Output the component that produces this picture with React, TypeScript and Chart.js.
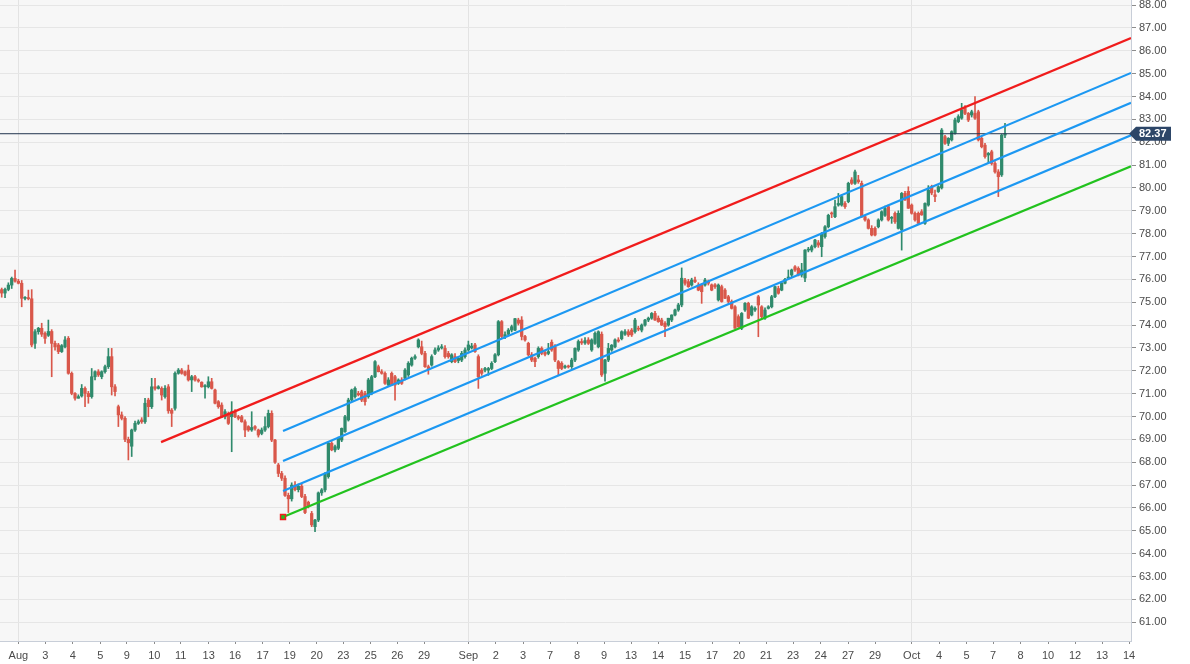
import { useEffect, useRef } from "react"
import { Chart, registerables } from "chart.js"

Chart.register(...registerables)

// open, high, low, close
type Candle = [number, number, number, number]

const augustEarly: Candle[] = [
  [75.55, 75.62, 75.22, 75.4], [75.4, 75.62, 75.2, 75.56], [75.56, 75.85, 75.5, 75.75], [75.75, 76.1, 75.6, 76.04],
  [76.04, 76.41, 75.88, 75.92], [75.92, 76.0, 75.8, 75.83], [75.83, 75.95, 74.8, 75.17], [75.17, 75.25, 75.1, 75.2],
  [75.2, 75.53, 75.1, 75.15], [75.15, 75.55, 73.05, 73.13], [73.2, 73.8, 72.98, 73.71], [73.71, 73.9, 73.6, 73.86],
  [73.86, 74.08, 73.5, 73.6], [73.64, 73.7, 73.2, 73.42], [73.55, 74.22, 73.5, 73.72], [73.72, 73.8, 71.74, 73.2],
  [73.2, 73.3, 72.9, 73.05], [73.13, 73.2, 72.75, 72.84], [72.84, 73.15, 72.8, 73.1], [73.05, 73.5, 73.0, 73.35],
  [73.42, 73.5, 71.85, 71.89], [71.89, 71.95, 70.95, 71.01], [71.01, 71.05, 70.72, 70.8], [70.8, 70.95, 70.8, 70.87],
  [70.9, 71.4, 70.85, 71.23], [71.23, 71.3, 70.43, 71.01], [71.01, 71.1, 70.58, 70.87], [70.87, 72.1, 70.8, 71.74],
  [71.74, 72.0, 71.6, 71.96], [71.96, 72.05, 71.75, 71.82], [71.74, 72.0, 71.65, 71.96], [71.96, 72.25, 71.9, 72.18],
  [72.18, 72.98, 72.1, 72.62], [72.62, 72.98, 70.94, 71.3], [71.3, 71.4, 70.9, 71.09], [70.43, 70.5, 69.56, 70.07],
  [70.07, 70.2, 69.85, 69.92], [69.92, 70.0, 68.9, 69.0], [69.0, 69.1, 68.1, 68.85], [68.7, 69.45, 68.25, 69.41],
  [69.41, 69.8, 69.35, 69.7], [69.7, 69.85, 69.65, 69.77], [69.85, 69.95, 69.7, 69.77], [69.77, 70.8, 69.7, 70.58],
  [70.72, 70.8, 69.99, 70.43], [70.43, 71.67, 70.35, 71.3], [71.3, 71.67, 71.15, 71.23], [71.23, 71.35, 71.2, 71.3],
  [71.23, 71.3, 70.72, 70.94], [70.87, 71.35, 70.8, 71.23], [71.3, 71.4, 70.14, 70.25], [70.28, 70.35, 69.56, 70.14],
  [70.36, 71.95, 70.28, 71.89], [71.89, 72.1, 71.85, 72.03], [72.03, 72.1, 71.85, 71.89], [71.96, 72.0, 71.78, 71.82],
  [72.03, 72.25, 71.55, 71.6], [71.6, 71.8, 71.09, 71.74], [71.74, 71.8, 71.55, 71.6], [71.6, 71.65, 71.5, 71.55],
  [71.5, 71.52, 71.28, 71.3], [71.3, 71.4, 70.8, 71.35], [71.3, 71.74, 71.25, 71.52], [71.52, 71.67, 71.2, 71.23],
  [71.16, 71.2, 70.55, 70.58], [70.65, 70.7, 70.36, 70.43], [70.5, 70.6, 69.95, 69.99], [69.99, 70.3, 69.9, 70.21],
  [70.14, 70.2, 69.65, 69.7], [69.99, 70.65, 68.46, 70.21], [70.21, 70.3, 69.95, 69.99], [69.99, 70.05, 69.85, 69.92],
  [69.99, 70.05, 69.75, 69.77], [69.77, 69.85, 69.12, 69.41], [69.56, 69.6, 69.35, 69.41], [69.41, 70.21, 69.35, 69.52],
  [69.56, 69.6, 69.4, 69.48], [69.41, 69.45, 69.1, 69.19], [69.26, 69.5, 69.2, 69.41], [69.41, 69.99, 69.35, 69.56],
  [69.56, 70.28, 69.5, 70.14], [70.14, 70.25, 68.9, 68.97], [68.97, 69.0, 67.95, 68.0], [67.88, 67.95, 67.37, 67.51],
]

const augustLate: Candle[] = [
  [67.51, 67.6, 67.2, 67.3], [67.3, 67.4, 66.5, 66.55], [66.55, 66.65, 65.8, 66.4], [66.4, 67.1, 66.3, 67.0],
  [67.0, 67.15, 66.75, 66.8], [66.8, 67.05, 66.7, 66.95], [66.95, 67.05, 66.45, 66.5], [66.5, 66.6, 65.75, 65.8],
  [66.25, 66.3, 66.0, 66.1], [65.76, 65.85, 65.18, 65.26], [65.18, 65.5, 64.96, 65.47], [65.47, 66.7, 65.4, 66.66],
  [66.66, 66.85, 66.55, 66.79], [66.79, 67.55, 66.7, 67.51], [67.37, 68.9, 67.3, 68.83], [68.83, 68.9, 68.5, 68.54],
  [68.54, 68.75, 68.45, 68.68], [68.61, 69.1, 68.55, 69.05], [68.97, 69.5, 68.9, 69.48], [69.34, 70.05, 69.3, 69.99],
  [69.85, 70.8, 69.8, 70.72], [70.72, 71.2, 70.65, 71.16], [70.87, 71.3, 70.8, 71.23], [71.01, 71.1, 70.9, 70.95],
  [71.08, 71.15, 70.65, 70.72], [71.01, 71.1, 70.5, 70.65], [70.87, 71.67, 70.8, 71.6], [71.01, 71.8, 70.95, 71.74],
  [71.74, 72.45, 71.7, 72.4], [72.18, 72.25, 71.95, 71.96], [71.96, 72.05, 71.85, 71.89], [71.89, 71.95, 71.4, 71.45],
  [71.38, 71.7, 71.35, 71.6], [71.89, 71.95, 71.35, 71.38], [71.74, 71.8, 70.72, 71.38], [71.45, 71.65, 71.4, 71.6],
  [71.6, 71.7, 71.4, 71.45], [71.67, 72.1, 71.6, 72.03], [71.82, 72.4, 71.75, 72.33], [72.25, 72.6, 72.2, 72.55],
  [72.55, 72.7, 72.5, 72.62], [73.05, 73.4, 73.0, 73.35], [73.05, 73.3, 72.7, 72.76], [72.76, 72.85, 72.15, 72.18],
  [72.18, 72.25, 71.85, 72.1], [72.25, 72.7, 72.2, 72.62], [72.76, 73.0, 72.7, 72.91], [72.91, 73.1, 72.85, 73.0],
  [73.0, 73.15, 72.95, 73.05], [72.98, 73.1, 72.55, 72.62], [72.76, 72.85, 72.55, 72.62], [72.4, 72.75, 72.35, 72.7],
  [72.62, 72.75, 72.35, 72.4], [72.45, 72.6, 72.35, 72.55], [72.47, 72.85, 72.4, 72.76], [72.62, 73.0, 72.55, 72.91],
]

const septemberEarly: Candle[] = [
  [72.91, 73.3, 72.85, 73.13], [73.0, 73.2, 72.95, 73.08], [73.13, 73.2, 72.8, 72.84], [72.62, 72.7, 71.23, 71.74],
  [72.03, 72.1, 71.8, 71.89], [72.03, 72.15, 71.95, 72.1], [72.03, 72.15, 71.8, 72.1], [72.1, 72.4, 72.05, 72.33],
  [72.4, 72.75, 72.35, 72.7], [72.7, 74.2, 72.65, 74.15], [74.15, 74.2, 73.45, 73.5], [73.5, 73.7, 73.4, 73.58],
  [73.6, 73.85, 73.55, 73.78], [73.78, 74.0, 73.7, 73.93], [73.78, 74.3, 73.75, 74.28], [74.22, 74.3, 74.0, 74.08],
  [74.22, 74.37, 73.35, 73.5], [73.5, 73.55, 73.3, 73.35], [73.2, 73.25, 72.65, 72.7], [72.7, 72.8, 72.4, 72.47],
  [72.55, 72.6, 72.18, 72.4], [72.62, 73.05, 72.55, 72.98], [72.98, 73.05, 72.7, 72.76], [72.8, 72.9, 72.65, 72.72],
  [72.76, 73.2, 72.7, 72.84], [73.25, 73.35, 72.85, 72.91], [73.05, 73.15, 72.4, 72.47], [72.4, 72.45, 71.82, 72.1],
  [72.33, 72.4, 72.05, 72.1], [72.15, 72.25, 72.1, 72.2], [72.2, 72.25, 72.12, 72.17], [72.18, 72.55, 72.1, 72.47],
  [72.47, 73.0, 72.4, 72.98], [72.91, 73.35, 72.85, 73.28], [73.28, 73.4, 73.15, 73.22], [73.22, 73.45, 73.15, 73.32],
  [73.35, 73.45, 73.15, 73.2], [72.91, 73.4, 72.85, 73.35], [73.2, 73.7, 73.15, 73.64], [73.05, 73.75, 73.0, 73.71],
  [73.6, 73.7, 71.75, 71.82], [71.89, 72.5, 71.55, 72.47], [72.47, 73.2, 72.4, 72.98], [72.91, 73.15, 72.85, 73.12],
  [73.05, 73.4, 73.0, 73.35], [73.35, 73.45, 73.25, 73.3], [73.4, 73.75, 73.35, 73.71], [73.6, 73.8, 73.55, 73.71],
  [73.71, 73.8, 73.5, 73.57], [73.78, 73.85, 73.5, 73.57], [73.71, 74.3, 73.65, 74.22], [73.85, 73.95, 73.75, 73.82],
  [73.78, 74.05, 73.7, 74.0], [74.0, 74.25, 73.95, 74.22], [74.22, 74.35, 74.15, 74.3],
]

const septemberLate: Candle[] = [
  [74.3, 74.55, 74.25, 74.51], [74.51, 74.6, 74.2, 74.22], [74.3, 74.4, 74.12, 74.15], [74.22, 74.3, 73.98, 74.0],
  [74.08, 74.15, 73.49, 73.93], [74.0, 74.3, 73.95, 74.3], [74.22, 74.45, 74.15, 74.44], [74.44, 74.7, 74.4, 74.66],
  [74.66, 74.95, 74.6, 74.88], [74.88, 76.5, 74.8, 76.05], [75.97, 76.05, 75.75, 75.83], [75.9, 76.0, 75.65, 75.68],
  [75.75, 76.05, 75.7, 75.97], [75.97, 76.1, 75.85, 75.9], [75.75, 75.85, 75.5, 75.53], [75.75, 75.8, 74.95, 75.46],
  [75.75, 76.05, 75.7, 75.97], [75.9, 75.97, 75.75, 75.83], [75.76, 75.8, 75.5, 75.53], [75.76, 75.82, 75.6, 75.68],
  [75.1, 75.8, 75.05, 75.75], [75.68, 75.75, 75.0, 75.03], [75.53, 75.6, 75.15, 75.17], [75.24, 75.3, 74.95, 75.03],
  [75.03, 75.1, 74.7, 74.73], [74.8, 74.85, 73.85, 73.86], [74.37, 74.45, 73.9, 73.93], [73.86, 74.55, 73.8, 74.51],
  [74.66, 74.98, 74.6, 74.95], [74.95, 75.0, 74.28, 74.3], [74.44, 74.85, 74.4, 74.8], [74.66, 74.8, 74.6, 74.73],
  [75.24, 75.3, 73.49, 74.88], [74.8, 74.85, 74.3, 74.37], [74.3, 74.75, 74.25, 74.66], [74.73, 74.85, 74.7, 74.8],
  [74.8, 75.3, 74.75, 75.24], [75.24, 75.7, 75.2, 75.68], [75.6, 75.7, 75.35, 75.39], [75.53, 75.9, 75.5, 75.83],
  [75.83, 76.05, 75.8, 76.0], [76.05, 76.41, 76.0, 76.1], [76.19, 76.45, 76.1, 76.41], [76.55, 76.6, 76.35, 76.41],
  [76.48, 76.55, 76.15, 76.19], [76.19, 76.7, 76.1, 76.41], [76.06, 77.3, 75.9, 77.28], [77.28, 77.4, 77.2, 77.3],
  [77.28, 77.5, 77.2, 77.43], [77.43, 77.75, 77.38, 77.72], [77.6, 77.7, 77.4, 77.5], [77.43, 78.05, 76.99, 78.01],
  [77.87, 78.35, 77.8, 78.3], [78.3, 78.85, 78.25, 78.8],
]

const octoberRun: Candle[] = [
  [78.89, 78.95, 78.7, 78.86], [78.74, 79.47, 78.7, 79.18], [79.25, 79.76, 79.2, 79.32], [79.25, 79.7, 79.2, 79.62],
  [79.32, 79.4, 79.1, 79.18], [79.4, 80.25, 79.35, 80.2], [80.35, 80.45, 80.15, 80.2], [80.2, 80.78, 80.15, 80.7],
  [80.35, 80.55, 80.2, 80.27], [80.2, 80.3, 78.7, 78.74], [78.74, 78.8, 78.55, 78.6], [78.6, 78.65, 78.2, 78.23],
  [78.23, 78.35, 77.9, 77.94], [78.23, 78.3, 77.9, 77.94], [78.3, 78.65, 78.25, 78.6], [78.6, 79.0, 78.55, 78.96],
  [78.8, 79.2, 78.75, 79.1], [79.18, 79.25, 78.55, 78.6], [78.67, 78.75, 78.45, 78.67], [78.89, 78.95, 78.45, 78.52],
  [78.23, 79.0, 78.2, 78.89], [78.16, 79.8, 77.28, 79.76], [79.76, 79.85, 79.45, 79.47], [79.85, 80.05, 79.1, 79.11],
  [79.25, 79.3, 78.85, 78.89], [78.89, 78.95, 78.55, 78.6], [78.89, 78.95, 78.4, 78.45], [78.96, 79.05, 78.8, 78.82],
  [78.45, 79.35, 78.4, 79.32], [79.25, 80.1, 79.2, 79.91], [80.05, 80.12, 79.7, 79.78], [79.7, 79.9, 79.4, 79.62],
  [79.84, 80.1, 79.8, 80.05], [80.0, 82.6, 79.95, 82.53], [82.24, 82.3, 81.9, 81.95], [81.95, 82.2, 81.85, 82.17],
  [82.1, 82.5, 82.05, 82.46], [82.39, 83.05, 82.35, 82.97], [82.9, 83.2, 82.85, 83.12], [83.05, 83.7, 83.0, 83.41],
  [83.48, 83.6, 83.2, 83.26], [83.26, 83.3, 82.9, 82.97], [83.19, 83.4, 83.1, 83.33], [83.26, 83.99, 83.0, 83.05],
  [83.33, 83.4, 82.05, 82.1], [82.17, 82.25, 81.75, 81.8], [81.87, 81.95, 81.3, 81.37], [81.44, 81.55, 81.1, 81.51],
  [81.58, 81.65, 81.0, 81.07], [81.07, 81.15, 80.65, 80.7], [80.7, 80.8, 79.62, 80.49], [80.57, 82.35, 80.5, 82.31],
  [82.31, 82.82, 82.2, 82.37],
]

const candles: Candle[] = [...augustEarly, ...augustLate, ...septemberEarly, ...septemberLate, ...octoberRun]

// time axis, in bar units
const tickBars = [
  5.0, 13.1, 21.3, 29.6, 37.5, 45.8, 53.7, 62.1, 70.0, 78.3, 86.4, 94.5, 102.5, 110.7, 118.7, 126.7,
  140.0, 148.2, 156.4, 164.5, 172.6, 180.7, 188.8, 196.9, 205.0, 213.1, 221.2, 229.3, 237.4, 245.7, 253.9, 262.0,
  273.0, 281.2, 289.5, 297.4, 305.7, 313.9, 322.0, 330.1, 338.2,
]
const tickText = [
  "Aug", "3", "4", "5", "9", "10", "11", "13", "16", "17", "19", "20", "23", "25", "26", "29",
  "Sep", "2", "3", "7", "8", "9", "13", "14", "15", "17", "20", "21", "23", "24", "27", "29",
  "Oct", "4", "5", "7", "8", "10", "12", "13", "14",
]

const X_MIN = -0.51
const X_MAX = 338.8

// trend lines: [bar, price]
const resistance = [[47.8, 68.88], [338.8, 86.56]]
const channelUpper = [[84.4, 69.37], [338.8, 85.03]]
const channelMid = [[84.4, 68.05], [338.8, 83.72]]
const channelLower = [[84.4, 66.74], [338.8, 82.3]]
const support = [[84.4, 65.6], [338.8, 80.95]]

const UP = "#2f8a6c"
const DOWN = "#d9574a"
const FONT = "'Liberation Sans', Arial, sans-serif"

const toPoints = (line: number[][]) => line.map(([x, y]) => ({ x, y }))

export default function App() {
  const canvasRef = useRef<HTMLCanvasElement>(null)

  useEffect(() => {
    document.body.style.margin = "0"
    if (!canvasRef.current) return

    const lastClose = candles[candles.length - 1][3]
    const colors = candles.map(([o, , , c]) => (c >= o ? UP : DOWN))

    const trendLine = (line: number[][], color: string) => ({
      type: "line" as const,
      data: toPoints(line),
      borderColor: color,
      borderWidth: 2.2,
      pointRadius: 0,
      fill: false,
      order: 1,
    })

    const chart = new Chart(canvasRef.current, {
      type: "bar",
      data: {
        datasets: [
          trendLine(resistance, "#f01c1c"),
          trendLine(channelUpper, "#1c98f2"),
          trendLine(channelMid, "#1c98f2"),
          trendLine(channelLower, "#1c98f2"),
          {
            ...trendLine(support, "#22c21e"),
            pointRadius: [3.5, 0],
            pointStyle: "rect",
            pointBackgroundColor: "#22c21e",
            pointBorderColor: "#f01c1c",
            pointBorderWidth: 1.5,
          },
          {
            type: "line" as const,
            data: [
              { x: X_MIN, y: lastClose },
              { x: X_MAX, y: lastClose },
            ],
            borderColor: "#22354f",
            borderWidth: 1,
            pointRadius: 0,
            order: 1,
          },
          {
            type: "bar" as const,
            data: candles.map(([o, , , c], i) => ({ x: i, y: [o, c] })),
            backgroundColor: colors,
            borderWidth: 0,
            barThickness: 2.6,
            minBarLength: 1,
            grouped: false,
            order: 2,
          },
          {
            type: "bar" as const,
            data: candles.map(([, h, l], i) => ({ x: i, y: [l, h] })),
            backgroundColor: colors,
            borderWidth: 0,
            barThickness: 1,
            grouped: false,
            order: 3,
          },
        ] as any,
      },
      options: {
        responsive: true,
        maintainAspectRatio: false,
        animation: false,
        events: [],
        layout: { padding: 0, autoPadding: false },
        scales: {
          x: {
            type: "linear",
            min: X_MIN,
            max: X_MAX,
            offset: false,
            afterBuildTicks: (scale: any) => {
              scale.ticks = tickBars.map((value) => ({ value }))
            },
            afterFit: (scale: any) => {
              scale.height = 23
              scale.paddingLeft = 0
              scale.paddingRight = 0
            },
            ticks: {
              autoSkip: false,
              maxRotation: 0,
              padding: 5,
              color: "#4a4a4a",
              font: { family: FONT, size: 11 },
              callback: (_v: any, i: number) => tickText[i],
            },
            grid: {
              offset: false,
              color: (ctx: any) => (isNaN(Number(tickText[ctx.index])) ? "#e3e3e3" : "rgba(0,0,0,0)"),
              tickColor: "#8c8c8c",
              tickLength: 3,
            },
            border: { color: "#c8ced8" },
          },
          y: {
            position: "right",
            min: 60.18,
            max: 88.22,
            afterFit: (scale: any) => {
              scale.width = 59
              scale.paddingTop = 0
              scale.paddingBottom = 0
            },
            ticks: {
              stepSize: 1,
              includeBounds: false,
              padding: 3,
              color: "#4a4a4a",
              font: { family: FONT, size: 11 },
              callback: (v: any) => Number(v).toFixed(2),
            },
            grid: { color: "#e6e6e6", tickColor: "#8c8c8c", tickLength: 5 },
            border: { color: "#c8ced8" },
          },
        },
        plugins: {
          legend: { display: false },
          tooltip: { enabled: false },
        },
      },
      plugins: [
        {
          id: "plotBackground",
          beforeDraw: (c: any) => {
            const { ctx, chartArea } = c
            ctx.save()
            ctx.fillStyle = "#f7f7f7"
            ctx.fillRect(chartArea.left, chartArea.top, chartArea.right - chartArea.left, chartArea.bottom - chartArea.top)
            ctx.restore()
          },
        },
        {
          id: "lastPriceTag",
          afterDraw: (c: any) => {
            const { ctx, chartArea, scales } = c
            const y = scales.y.getPixelForValue(lastClose)
            const left = chartArea.right - 2
            const right = c.width - 19
            ctx.save()
            ctx.fillStyle = "#2d4668"
            ctx.beginPath()
            ctx.moveTo(left, y)
            ctx.lineTo(left + 7, y - 7)
            ctx.lineTo(right, y - 7)
            ctx.lineTo(right, y + 7)
            ctx.lineTo(left + 7, y + 7)
            ctx.closePath()
            ctx.fill()
            ctx.fillStyle = "#ffffff"
            ctx.font = `bold 11px ${FONT}`
            ctx.textBaseline = "middle"
            ctx.textAlign = "left"
            ctx.fillText(lastClose.toFixed(2), left + 10, y + 0.5)
            ctx.restore()
          },
        },
      ],
    })

    return () => {
      chart.destroy()
    }
  }, [])

  return (
    <div style={{ position: "fixed", left: 0, top: 0, width: 1190, height: 664, background: "#ffffff" }}>
      <canvas ref={canvasRef} />
    </div>
  )
}
